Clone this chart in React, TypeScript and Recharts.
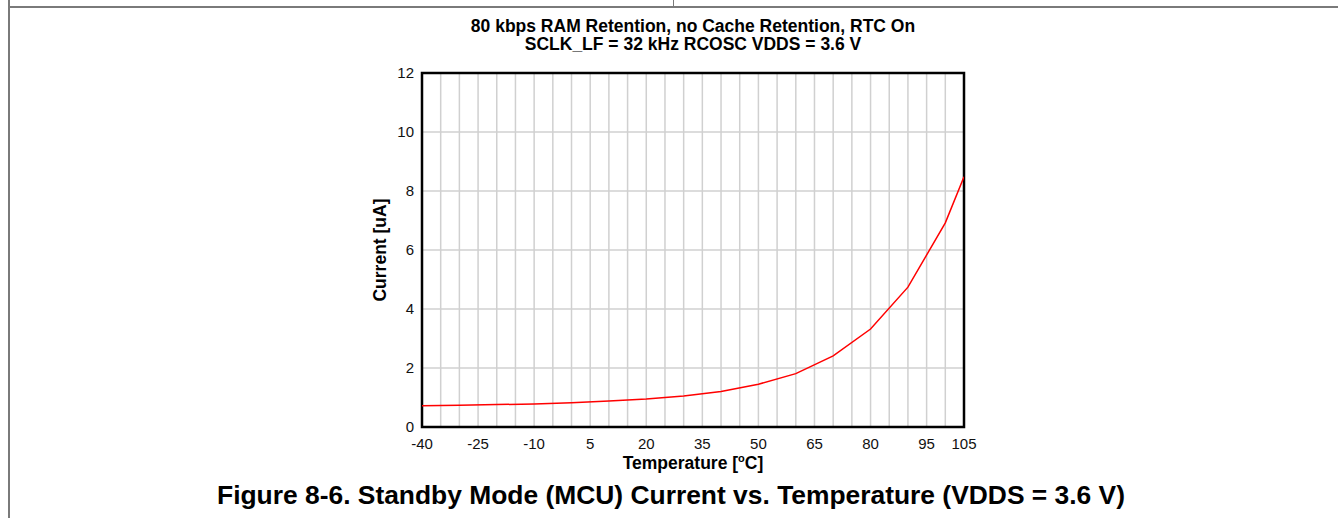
import React from "react";
import {
  LineChart,
  Line,
  XAxis,
  YAxis,
  CartesianGrid,
  ReferenceArea,
  Label,
} from "recharts";

// ---- data ----
const temperatures = [-40, -30, -20, -10, 0, 10, 20, 30, 40, 50, 60, 70, 80, 90, 100, 105];
const currentUA = [0.72, 0.74, 0.76, 0.78, 0.82, 0.88, 0.95, 1.05, 1.2, 1.45, 1.81, 2.41, 3.32, 4.74, 6.92, 8.48];
const xTicks = [-40, -25, -10, 5, 20, 35, 50, 65, 80, 95, 105];
const yTicks = [0, 2, 4, 6, 8, 10, 12];
const xGrid = [-35, -30, -25, -20, -15, -10, -5, 0, 5, 10, 15, 20, 25, 30, 35, 40, 45, 50, 55, 60, 65, 70, 75, 80, 85, 90, 95, 100];
const yGrid = [2, 4, 6, 8, 10];
const titleLines = [
  "80 kbps RAM Retention, no Cache Retention, RTC On",
  "SCLK_LF = 32 kHz RCOSC VDDS = 3.6 V",
];
const caption = "Figure 8-6. Standby Mode (MCU) Current vs. Temperature (VDDS = 3.6 V)";

const data = temperatures.map((t, i) => ({ t, i: currentUA[i] }));

const FONT = "'Liberation Sans', Arial, Helvetica, sans-serif";

const XTitle = (props: any) => {
  const vb = props.viewBox || {};
  const cx = vb.x + vb.width / 2;
  const y = vb.y + 42;
  return (
    <text x={cx} y={y} textAnchor="middle" fontFamily={FONT} fontWeight="bold" fontSize={17.5} fill="#000">
      <tspan>Temperature [</tspan>
      <tspan fontSize={11} dy={-7}>o</tspan>
      <tspan dy={7}>C]</tspan>
    </text>
  );
};

const YTitle = (props: any) => {
  const vb = props.viewBox || {};
  const cx = vb.x + vb.width - 42;
  const cy = vb.y + vb.height / 2;
  return (
    <text
      x={cx}
      y={cy}
      textAnchor="middle"
      fontFamily={FONT}
      fontWeight="bold"
      fontSize={17.5}
      fill="#000"
      transform={`rotate(-90, ${cx}, ${cy})`}
      dominantBaseline="central"
    >
      Current [uA]
    </text>
  );
};

export default function App() {
  return (
    <div style={{ position: "absolute", left: 0, top: 0, width: 1338, height: 518, background: "#fff", overflow: "hidden" }}>
      {/* page frame lines */}
      <div style={{ position: "absolute", left: 8, top: 6, width: 1330, height: 2, background: "#7a7a7a" }} />
      <div style={{ position: "absolute", left: 8, top: 0, width: 2, height: 518, background: "#7a7a7a" }} />
      <div style={{ position: "absolute", left: 673, top: 0, width: 1, height: 7, background: "#7a7a7a" }} />

      {/* chart title */}
      <div
        style={{
          position: "absolute",
          left: 343,
          top: 17,
          width: 700,
          textAlign: "center",
          fontFamily: FONT,
          fontWeight: "bold",
          fontSize: 17.5,
          lineHeight: "18px",
          color: "#000",
        }}
      >
        {titleLines.map((l) => (
          <div key={l}>{l}</div>
        ))}
      </div>

      <div style={{ position: "absolute", left: 0, top: 0 }}>
        <LineChart
          width={1338}
          height={518}
          data={data}
          margin={{ top: 73, right: 374, bottom: 61, left: 382 }}
        >
          <CartesianGrid
            stroke="#d0d0d0"
            strokeWidth={1.5}
            verticalValues={xGrid}
            horizontalValues={yGrid}
          />
          <XAxis
            dataKey="t"
            type="number"
            domain={[-40, 105]}
            ticks={xTicks}
            interval={0}
            height={30}
            axisLine={false}
            tickLine={false}
            tickMargin={5}
            tick={{ fontFamily: FONT, fontSize: 15, fill: "#111" }}
            allowDataOverflow
          >
            <Label content={<XTitle />} />
          </XAxis>
          <YAxis
            type="number"
            domain={[0, 12]}
            ticks={yTicks}
            interval={0}
            width={40}
            axisLine={false}
            tickLine={false}
            tick={{ fontFamily: FONT, fontSize: 15, fill: "#111" }}
          >
            <Label content={<YTitle />} />
          </YAxis>
          <Line
            type="linear"
            dataKey="i"
            stroke="#ff0000"
            strokeWidth={1.5}
            dot={false}
            isAnimationActive={false}
          />
          <ReferenceArea
            x1={-40}
            x2={105}
            y1={0}
            y2={12}
            fill="none"
            stroke="#000"
            strokeWidth={2.5}
            fillOpacity={0}
            ifOverflow="visible"
          />
        </LineChart>
      </div>

      {/* figure caption */}
      <div
        style={{
          position: "absolute",
          left: 0,
          top: 480,
          width: 1342,
          textAlign: "center",
          fontFamily: FONT,
          fontWeight: "bold",
          fontSize: 26.4,
          lineHeight: "30px",
          color: "#000",
        }}
      >
        {caption}
      </div>
    </div>
  );
}
